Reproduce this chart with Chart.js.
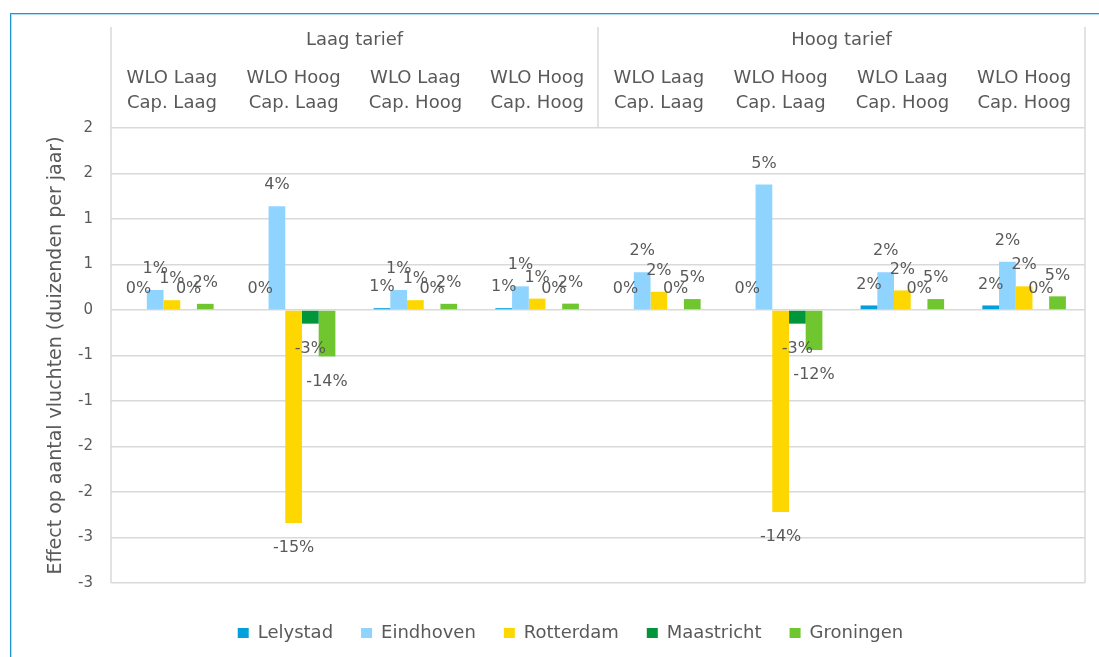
<!DOCTYPE html>
<html>
<head>
<meta charset="utf-8">
<script src="https://cdn.jsdelivr.net/npm/chart.js@4.4.1/dist/chart.umd.min.js"></script>
<style>
  html, body { margin: 0; padding: 0; background: #fff; overflow: hidden; }
  .wrap { position: relative; width: 1099px; height: 657px; }
  .frame {
    position: absolute; left: 10px; top: 13px; right: -5px; bottom: -5px;
    border-left: 1px solid #1d95d2; border-top: 1px solid #1d95d2;
    box-shadow: inset 1px 1px 0 #b5def4;
  }
  #chart { position: absolute; left: 0; top: 0; }
</style>
</head>
<body>
<div class="wrap">
  <div class="frame"></div>
  <canvas id="chart" width="1099" height="657"></canvas>
</div>
<script>
// Data
const tariffs = ["Laag tarief", "Hoog tarief"];
const scenarios = [
  ["WLO Laag", "Cap. Laag"], ["WLO Hoog", "Cap. Laag"], ["WLO Laag", "Cap. Hoog"], ["WLO Hoog", "Cap. Hoog"],
  ["WLO Laag", "Cap. Laag"], ["WLO Hoog", "Cap. Laag"], ["WLO Laag", "Cap. Hoog"], ["WLO Hoog", "Cap. Hoog"]
];

const lelystad   = [0, 0, 0.02, 0.02, 0, 0, 0.05, 0.05];
const eindhoven  = [0.22, 1.14, 0.22, 0.26, 0.415, 1.38, 0.415, 0.53];
const rotterdam  = [0.108, -2.34, 0.108, 0.125, 0.2, -2.22, 0.215, 0.26];
const maastricht = [0, -0.15, 0, 0, 0, -0.15, 0, 0];
const groningen  = [0.068, -0.51, 0.068, 0.07, 0.12, -0.44, 0.12, 0.15];

// percentage labels shown on the bars
const lelystadPct   = ["0%", "0%", "1%", "1%", "0%", "0%", "2%", "2%"];
const eindhovenPct  = ["1%", "4%", "1%", "1%", "2%", "5%", "2%", "2%"];
const rotterdamPct  = ["1%", "-15%", "1%", "1%", "2%", "-14%", "2%", "2%"];
const maastrichtPct = ["0%", "-3%", "0%", "0%", "0%", "-3%", "0%", "0%"];
const groningenPct  = ["2%", "-14%", "2%", "2%", "5%", "-12%", "5%", "5%"];

const yTitle = "Effect op aantal vluchten (duizenden per jaar)";

const FONT = "'DejaVu Sans', sans-serif";
const TEXT = "#595959";
const GRID = "#d9d9d9";

// Excel style rounding of the tick labels (half away from zero, no decimals)
function tickLabel(v) {
  const r = Math.sign(v) * Math.round(Math.abs(v));
  return r === 0 ? "0" : String(r);
}

// header separators + left/right plot borders
const frameLines = {
  id: "frameLines",
  beforeDatasetsDraw(chart) {
    const { ctx, chartArea: a, scales: { x, x2 } } = chart;
    const mid = (x.getPixelForValue(3) + x.getPixelForValue(4)) / 2;
    ctx.save();
    ctx.strokeStyle = GRID;
    ctx.lineWidth = 1.5;
    ctx.beginPath();
    ctx.moveTo(a.left, x2.top); ctx.lineTo(a.left, a.bottom);
    ctx.moveTo(a.right, x2.top); ctx.lineTo(a.right, a.bottom);
    ctx.moveTo(mid, x2.top); ctx.lineTo(mid, a.top);
    ctx.stroke();
    ctx.restore();
  }
};

// percentage labels above / below each bar
const barLabels = {
  id: "barLabels",
  afterDatasetsDraw(chart) {
    const ctx = chart.ctx;
    ctx.save();
    ctx.font = "16px " + FONT;
    ctx.fillStyle = TEXT;
    ctx.textAlign = "center";
    ctx.textBaseline = "middle";
    chart.data.datasets.forEach((ds, di) => {
      chart.getDatasetMeta(di).data.forEach((bar, i) => {
        const y = ds.data[i] >= 0 ? bar.y - 21 : bar.y + 25;
        ctx.fillText(ds.pct[i], bar.x, y);
      });
    });
    ctx.restore();
  }
};

// legend sits a bit right of the canvas centre in the original
const legendShift = {
  id: "legendShift",
  afterLayout(chart) {
    chart.legend.left += 28;
    chart.legend.right += 28;
  }
};

new Chart(document.getElementById("chart"), {
  type: "bar",
  data: {
    labels: scenarios,
    datasets: [
      { label: "Lelystad", data: lelystad, pct: lelystadPct, backgroundColor: "#00a0dc" },
      { label: "Eindhoven", data: eindhoven, pct: eindhovenPct, backgroundColor: "#8fd3ff" },
      { label: "Rotterdam", data: rotterdam, pct: rotterdamPct, backgroundColor: "#ffd700" },
      { label: "Maastricht", data: maastricht, pct: maastrichtPct, backgroundColor: "#009639" },
      { label: "Groningen", data: groningen, pct: groningenPct, backgroundColor: "#6fc62e" }
    ]
  },
  options: {
    responsive: false,
    animation: false,
    devicePixelRatio: 1,
    categoryPercentage: 0.686,
    barPercentage: 1,
    layout: { padding: { top: 27, right: 14, left: 0, bottom: 5 } },
    scales: {
      x: {
        position: "top",
        offset: true,
        grid: { display: false, drawTicks: false, tickLength: 0 },
        border: { display: false },
        ticks: {
          color: TEXT, font: { family: FONT, size: 18, lineHeight: 25 / 18 },
          padding: 12, maxRotation: 0, autoSkip: false
        },
        afterFit: s => { s.height = 64; }
      },
      x2: {
        type: "category",
        labels: tariffs,
        position: "top",
        offset: true,
        weight: 1,
        grid: { display: false, drawTicks: false, tickLength: 0 },
        border: { display: false },
        ticks: {
          color: TEXT, font: { family: FONT, size: 18, lineHeight: 25 / 18 },
          padding: 11, maxRotation: 0
        },
        afterFit: s => { s.height = 37; }
      },
      y: {
        min: -3,
        max: 2,
        grid: { color: GRID, lineWidth: 1.5, drawTicks: false },
        border: { display: false },
        ticks: {
          stepSize: 0.5, padding: 18, color: TEXT,
          font: { family: FONT, size: 15 },
          callback: v => tickLabel(v)
        },
        title: {
          display: true, text: yTitle, color: TEXT,
          font: { family: FONT, size: 19 },
          padding: { top: 45, bottom: 0 }
        },
        afterFit: s => { s.width = 111; }
      }
    },
    plugins: {
      tooltip: { enabled: false },
      // empty bottom title used only as spacer between plot and legend
      title: {
        display: true, text: "", position: "bottom", weight: 500,
        font: { size: 1, lineHeight: 1 }, padding: { top: 6, bottom: 6 }
      },
      legend: {
        position: "bottom",
        labels: {
          boxWidth: 11, boxHeight: 10, padding: 28, color: TEXT,
          font: { family: FONT, size: 18 }
        }
      }
    }
  },
  plugins: [frameLines, barLabels, legendShift]
});
</script>
</body>
</html>
